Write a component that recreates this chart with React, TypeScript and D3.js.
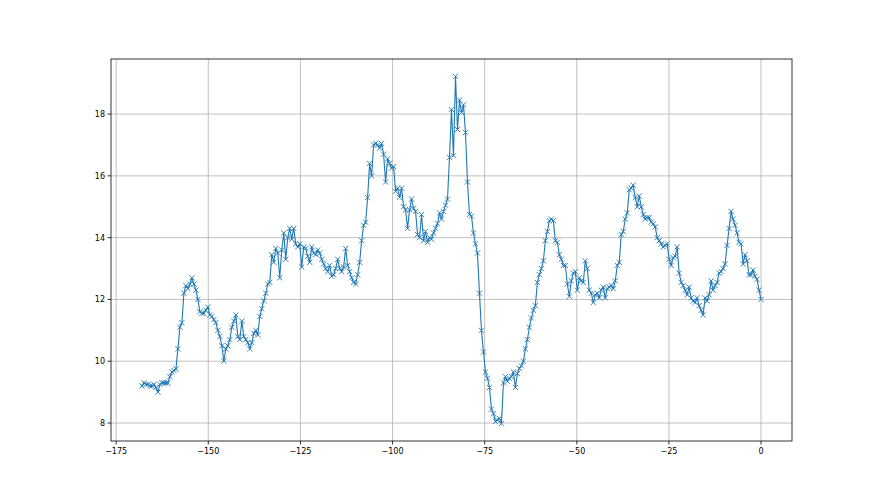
import React from "react";
import * as d3 from "d3";

const X_START = -168;
const X_END = 0;

const values: number[] = [
  9.2, 9.3, 9.25, 9.25, 9.2, 9.2, 9.25, 9.15, 9.0, 9.25,
  9.3, 9.3, 9.3, 9.3, 9.5, 9.65, 9.7, 9.75, 10.4, 11.1,
  11.25, 12.2, 12.45, 12.35, 12.5, 12.7, 12.5, 12.3, 12.0, 11.6,
  11.55, 11.55, 11.65, 11.75, 11.5, 11.45, 11.35, 11.25, 11.0, 10.8,
  10.5, 10.0, 10.4, 10.5, 10.7, 11.1, 11.3, 11.5, 10.8, 10.7,
  11.3, 10.8, 10.7, 10.6, 10.4, 10.6, 10.9, 11.0, 10.85, 11.45,
  11.7, 11.95, 12.2, 12.5, 12.55, 13.45, 13.2, 13.65, 13.5, 12.7,
  13.6, 14.15, 13.3, 14.0, 14.3, 13.95, 14.3, 13.8,
  13.7, 13.8, 13.05, 13.7, 13.65, 13.4, 13.2, 13.7, 13.5, 13.45,
  13.6, 13.5, 13.3, 13.15, 13.0, 12.9, 13.1, 12.75, 12.8, 13.0,
  13.3, 13.0, 12.9, 13.05, 13.65, 13.1, 12.9, 12.7, 12.55, 12.5,
  12.8, 13.2, 13.9, 14.4, 14.5, 15.3, 16.4, 16.0, 17.0, 17.05,
  17.0, 16.9, 17.05, 16.7, 15.8, 16.55, 16.4, 16.25, 16.3, 15.5,
  15.6, 15.3, 15.6, 15.0, 14.9, 14.3, 14.9, 15.25, 14.95, 14.85,
  14.1, 14.0, 14.75, 13.9, 14.2, 13.85, 14.0, 13.95, 14.15, 14.3,
  14.45, 14.8, 14.6, 14.85, 15.05, 15.25, 16.6,
  18.15, 16.65, 19.22, 17.5, 18.45, 18.05, 18.3, 17.4, 15.8, 14.75,
  14.7, 14.15, 13.8, 13.5, 12.2, 11.0, 10.3, 9.65, 9.45, 9.15,
  8.45, 8.3, 8.05, 8.1, 8.15, 7.98, 9.3,
  9.5, 9.35, 9.45, 9.5, 9.65, 9.15, 9.6, 9.77, 9.85, 10.0,
  10.4, 10.7, 11.1, 11.4, 11.65, 11.8, 12.55,
  12.8, 13.0, 13.25, 13.9, 14.2, 14.55, 14.6, 14.55, 13.9, 13.85,
  13.45, 13.3, 13.1, 13.1, 12.5, 12.1, 12.6, 12.85, 12.9, 12.3,
  12.7, 12.6, 12.55, 13.25, 13.0, 12.3, 12.2, 11.9, 12.15, 12.2,
  12.05, 12.3, 12.4, 12.05, 12.35,
  12.4, 12.45, 12.35, 12.6, 13.1, 13.2, 14.1, 14.2, 14.6, 14.8,
  15.55, 15.6, 15.7, 15.3, 15.0, 15.35, 15.0, 14.75, 14.6, 14.65,
  14.65, 14.5, 14.45, 14.35, 14.0, 13.9,
  13.8, 13.7, 13.75, 13.8, 13.3, 13.1, 13.35, 13.4, 13.7, 12.85,
  12.55, 12.45, 12.3, 12.15, 12.4, 12.05, 11.95, 11.9, 12.05, 11.8,
  11.65, 11.5, 12.05, 11.95, 12.15, 12.6,
  12.3, 12.45, 12.55, 12.85, 12.9, 13.0, 13.15, 13.75, 14.3, 14.85,
  14.6, 14.4, 14.15, 13.85, 13.8, 13.15, 13.45, 13.25, 12.8, 12.8,
  12.95, 12.75, 12.65, 12.3, 12.0,
];

const xTicks = [-175, -150, -125, -100, -75, -50, -25, 0];
const yTicks = [8, 10, 12, 14, 16, 18];

const W = 880;
const H = 495;
const M = { left: 111, right: 792, top: 59, bottom: 441 };
const COLOR = "#1f77b4";

export default function App() {
  const n = values.length;
  const step = (X_END - X_START) / (n - 1);
  const data = values.map((v, i) => ({ x: X_START + i * step, y: v }));

  const xMin = X_START, xMax = X_END;
  const xPad = (xMax - xMin) * 0.05;
  const yMin = d3.min(values)!, yMax = d3.max(values)!;
  const yPad = (yMax - yMin) * 0.05;

  const x = d3.scaleLinear().domain([xMin - xPad, xMax + xPad]).range([M.left, M.right]);
  const y = d3.scaleLinear().domain([yMin - yPad, yMax + yPad]).range([M.bottom, M.top]);

  const line = d3.line<{ x: number; y: number }>().x((d) => x(d.x)).y((d) => y(d.y));
  const s = 2.6;
  const fmt = (v: number) => (v < 0 ? "\u2212" + Math.abs(v) : String(v));

  return (
    <svg width={W} height={H} style={{ position: "absolute", left: 0, top: 0, background: "#fff" }}
      fontFamily="DejaVu Sans" fontSize={8}>
      <rect x={0} y={0} width={W} height={H} fill="#fff" />
      {xTicks.map((t) => (
        <line key={"gx" + t} x1={x(t)} x2={x(t)} y1={M.top} y2={M.bottom} stroke="#b0b0b0" strokeWidth={0.8} />
      ))}
      {yTicks.map((t) => (
        <line key={"gy" + t} x1={M.left} x2={M.right} y1={y(t)} y2={y(t)} stroke="#b0b0b0" strokeWidth={0.8} />
      ))}
      <path d={line(data)!} fill="none" stroke={COLOR} strokeWidth={1.1} strokeLinejoin="round" />
      {data.map((d, i) => (
        <path key={i}
          d={`M${x(d.x) - s},${y(d.y) - s}L${x(d.x) + s},${y(d.y) + s}M${x(d.x) - s},${y(d.y) + s}L${x(d.x) + s},${y(d.y) - s}`}
          stroke={COLOR} strokeWidth={0.9} fill="none" />
      ))}
      <rect x={M.left} y={M.top} width={M.right - M.left} height={M.bottom - M.top} fill="none" stroke="#000" strokeWidth={0.8} />
      {xTicks.map((t) => (
        <g key={"tx" + t}>
          <line x1={x(t)} x2={x(t)} y1={M.bottom} y2={M.bottom + 3.5} stroke="#000" strokeWidth={0.8} />
          <text x={x(t)} y={M.bottom + 13} textAnchor="middle" fill="#000">{fmt(t)}</text>
        </g>
      ))}
      {yTicks.map((t) => (
        <g key={"ty" + t}>
          <line x1={M.left - 3.5} x2={M.left} y1={y(t)} y2={y(t)} stroke="#000" strokeWidth={0.8} />
          <text x={M.left - 6} y={y(t) + 3} textAnchor="end" fill="#000">{fmt(t)}</text>
        </g>
      ))}
    </svg>
  );
}
